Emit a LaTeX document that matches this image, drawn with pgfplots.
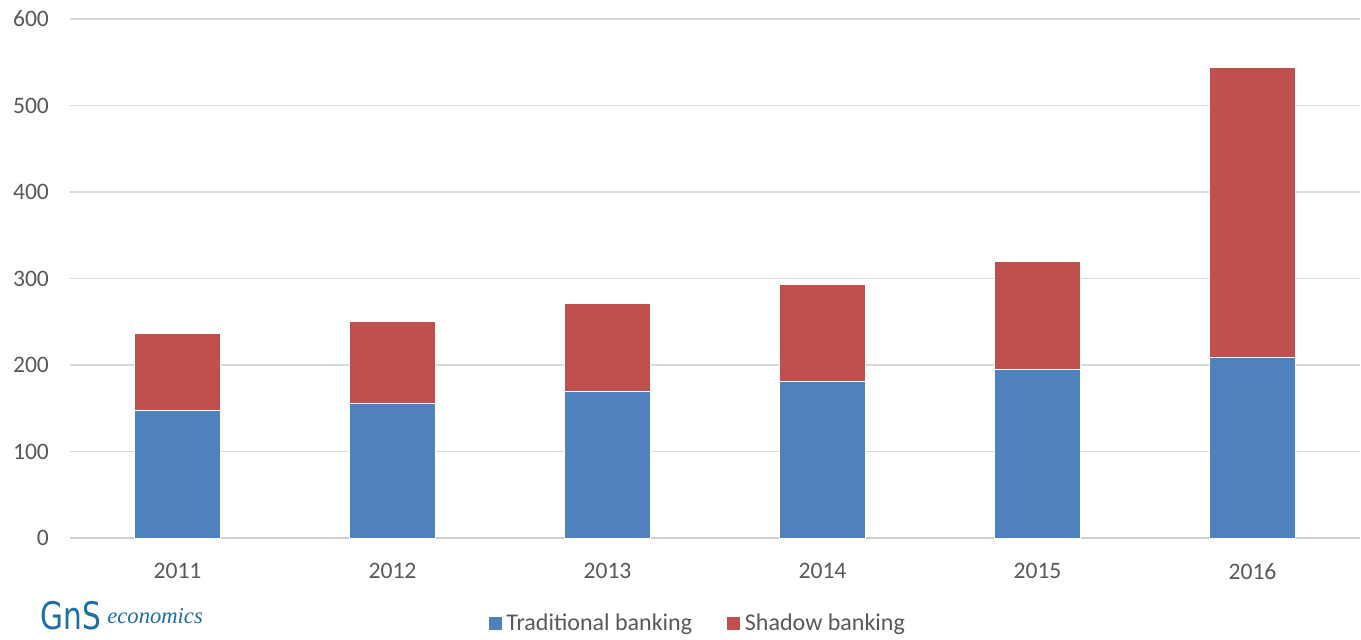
\documentclass[border=0pt]{standalone}
\usepackage{fontspec}
\setmainfont{Carlito}
\newfontfamily\serifit{Liberation Serif}
\newfontfamily\logofont{DejaVu Sans}
\usepackage{pgfplots}
\pgfplotsset{compat=1.18}
\definecolor{tradblue}{HTML}{4F81BD}
\definecolor{shadowred}{HTML}{C0504D}
\definecolor{gridgrey}{HTML}{D9D9D9}
\definecolor{txtgrey}{HTML}{595959}
\definecolor{logoblue}{HTML}{1E6FA3}
\begin{document}
\begin{tikzpicture}[x=0.5pt,y=0.5pt]
\useasboundingbox (0,0) rectangle (1361,639);
\begin{axis}[
  at={(70pt*0.5,101pt*0.5)}, anchor=south west,
  scale only axis, width=645pt, height=259.5pt,
  ybar stacked, bar width=0.4,
  xmin=-0.5, xmax=5.5, ymin=0, ymax=600,
  xtick=data, xticklabels={2011,2012,2013,2014,2015,2016},
  ytick={0,100,...,600},
  axis line style={draw=none},
  axis x line*=bottom,
  ymajorgrids, grid style={gridgrey, line width=0.7pt},
  major tick length=0pt,
  tick label style={font=\fontsize{11.8}{13}\selectfont, text=txtgrey},
  /pgf/number format/assume math mode=true,
  yticklabel style={xshift=-7pt},
  xticklabel style={yshift=-9pt},
  legend style={at={(0.487,-0.165)}, anchor=center, draw=none,
    font=\fontsize{12}{13}\selectfont, text=txtgrey, legend columns=2,
    /tikz/every even column/.append style={column sep=15pt}},
  legend image code/.code={\fill[#1] (0,-3.5pt) rectangle (7pt,3.5pt);},
]
\addplot[fill=tradblue, draw=white, line width=0.4pt] coordinates {(0,147) (1,156) (2,170) (3,181.5) (4,194.5) (5,209)};
\addlegendentry{Traditional banking}
\addplot[fill=shadowred, draw=white, line width=0.4pt] coordinates {(0,89) (1,94) (2,101.5) (3,112) (4,125) (5,334.5)};
\addlegendentry{Shadow banking}
\draw[gridgrey!80!black!60, line width=0.7pt] (axis cs:-0.5,0) -- (axis cs:5.5,0);
\end{axis}
\node[anchor=south west, inner sep=0, text=logoblue] at (40,9) {\logofont\fontsize{19}{19}\selectfont\scalebox{0.78}[1]{GnS}};
\node[anchor=south west, inner sep=0, text=logoblue] at (107,15) {\serifit\itshape\fontsize{11.3}{12}\selectfont economics};
\end{tikzpicture}
\end{document}
